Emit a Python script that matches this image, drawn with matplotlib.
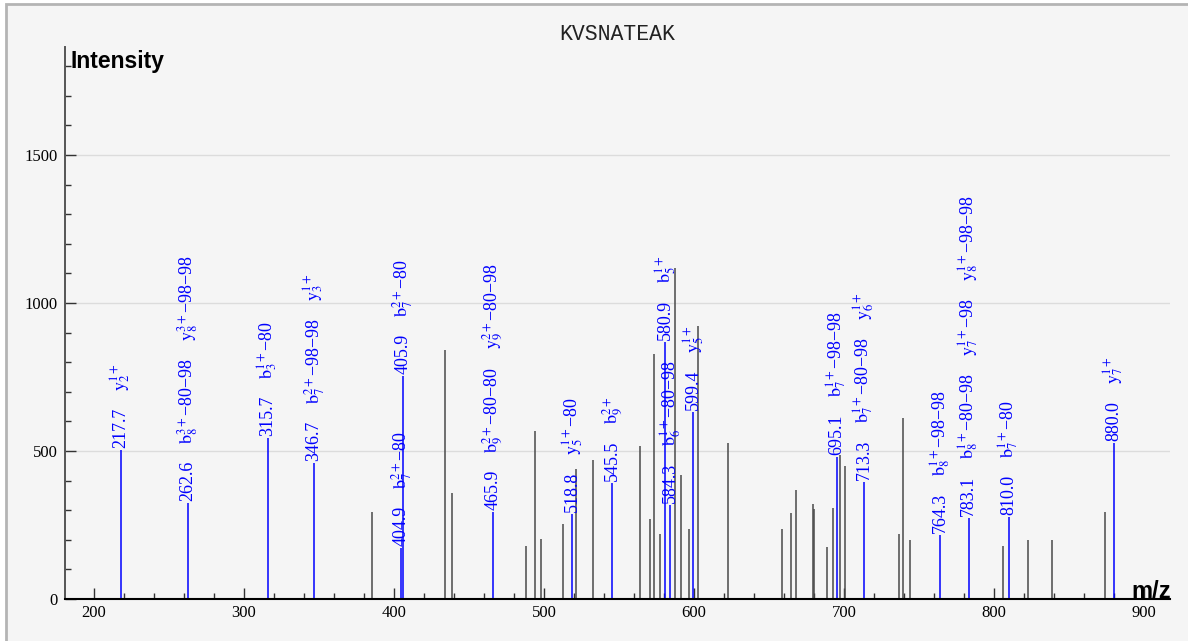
import matplotlib
matplotlib.use("Agg")
import matplotlib.pyplot as plt
from matplotlib.ticker import MultipleLocator
from matplotlib.patches import Rectangle

plt.rcParams['mathtext.fontset'] = 'stix'

title = "KVSNATEAK"

# unannotated peaks (m/z, intensity)
gray_mz = [385.5, 433.8, 438.4, 487.8, 494.0, 498.0, 512.9, 521.1, 532.9, 564.2,
           570.7, 573.3, 577.3, 587.3, 591.3, 596.4, 602.9, 622.4, 658.9, 664.9,
           668.2, 679.6, 680.2, 688.9, 692.4, 697.3, 700.4, 736.9, 739.6, 743.8,
           805.8, 822.7, 838.7, 873.8]
gray_int = [294, 841, 357, 179, 569, 204, 253, 438, 470, 517,
            271, 828, 220, 1118, 418, 235, 922, 528, 235, 290,
            368, 321, 303, 177, 309, 486, 449, 220, 610, 198,
            179, 198, 198, 293]

# annotated fragment peaks
blue_mz = [217.7, 262.6, 315.7, 346.7, 404.9, 405.9, 465.9, 518.8, 545.5,
           580.9, 584.3, 599.4, 695.1, 713.3, 764.3, 783.1, 810.0, 880.0]
blue_int = [503, 324, 544, 459, 172, 753, 294, 287, 392,
            868, 318, 632, 480, 395, 216, 273, 277, 527]
blue_ions = [
    [r"$\mathrm{y}_2^{1+}$"],
    [r"$\mathrm{b}_8^{3+}$−80−98", r"$\mathrm{y}_8^{3+}$−98−98"],
    [r"$\mathrm{b}_3^{1+}$−80"],
    [r"$\mathrm{b}_7^{2+}$−98−98", r"$\mathrm{y}_3^{1+}$"],
    [r"$\mathrm{b}_7^{2+}$−80"],
    [r"$\mathrm{b}_7^{2+}$−80"],
    [r"$\mathrm{b}_9^{2+}$−80−80", r"$\mathrm{y}_9^{2+}$−80−98"],
    [r"$\mathrm{y}_5^{1+}$−80"],
    [r"$\mathrm{b}_9^{2+}$"],
    [r"$\mathrm{b}_5^{1+}$"],
    [r"$\mathrm{b}_6^{1+}$−80−98"],
    [r"$\mathrm{y}_5^{1+}$"],
    [r"$\mathrm{b}_7^{1+}$−98−98"],
    [r"$\mathrm{b}_7^{1+}$−80−98", r"$\mathrm{y}_6^{1+}$"],
    [r"$\mathrm{b}_8^{1+}$−98−98"],
    [r"$\mathrm{b}_8^{1+}$−80−98", r"$\mathrm{y}_7^{1+}$−98", r"$\mathrm{y}_8^{1+}$−98−98"],
    [r"$\mathrm{b}_7^{1+}$−80"],
    [r"$\mathrm{y}_7^{1+}$"],
]

W, H, DPI = 1188, 641, 100
fig = plt.figure(figsize=(W / DPI, H / DPI), dpi=DPI, facecolor='white')
fig.patches.append(Rectangle((6 / W, -0.05), 1.1, 1 - 4 / H + 0.05, transform=fig.transFigure,
                             facecolor='#f5f5f5', edgecolor='#b4b4b4', lw=2, zorder=-10))

ax = fig.add_axes([65 / W, 1 - 599 / H, (1170 - 65) / W, (599 - 47) / H])
ax.patch.set_visible(False)
ax.set_xlim(180.7, 917.3)
ax.set_ylim(0, 1865)

for s in ['top', 'right']:
    ax.spines[s].set_visible(False)
ax.spines['left'].set_color('#555555')
ax.spines['left'].set_linewidth(1.4)
ax.spines['bottom'].set_color('black')
ax.spines['bottom'].set_linewidth(1.5)

ax.xaxis.set_major_locator(MultipleLocator(100))
ax.xaxis.set_minor_locator(MultipleLocator(20))
ax.yaxis.set_major_locator(MultipleLocator(500))
ax.yaxis.set_minor_locator(MultipleLocator(100))
ax.tick_params(which='both', direction='in', width=1, colors='#333333', labelcolor='black')
ax.tick_params(which='major', length=8)
ax.tick_params(which='minor', length=4.5)
ax.tick_params(axis='y', pad=5)
ax.tick_params(axis='x', pad=4)
for lab in ax.get_xticklabels() + ax.get_yticklabels():
    lab.set_family('Liberation Serif')
    lab.set_fontsize(12)
ax.grid(axis='y', which='major', color='#dcdcdc', lw=1)
ax.set_axisbelow(True)

ax.vlines(gray_mz, 0, gray_int, colors='#4a4a4a', lw=1.1)
ax.vlines(blue_mz, 0, blue_int, colors='#0000ff', lw=1.1)

fig.text(617.5 / W, 1 - 35 / H, title, ha='center', va='center',
         family=['Liberation Mono', 'DejaVu Sans Mono'], fontsize=15.5, color='#222222')
fig.text(70 / W, 1 - 68 / H, "Intensity", ha='left', va='baseline',
         family='Liberation Sans', fontweight='bold', fontsize=16.5)
fig.text(1171 / W, 1 - 598 / H, "m/z", ha='right', va='baseline',
         family='Liberation Sans', fontweight='bold', fontsize=17)

fig.canvas.draw()
renderer = fig.canvas.get_renderer()
px2pt = 72 / DPI
for mz, h, ions in zip(blue_mz, blue_int, blue_ions):
    off = 2
    for lab in [f"{mz:.1f}"] + ions:
        t = ax.annotate(lab, (mz, h), xytext=(0, off * px2pt), textcoords='offset points',
                        rotation=90, ha='center', va='bottom', color='#0000ff',
                        family='Liberation Serif', fontsize=13)
        bb = t.get_window_extent(renderer)
        off += bb.height + 17

fig.savefig("out.png", dpi=DPI, facecolor=fig.get_facecolor())
